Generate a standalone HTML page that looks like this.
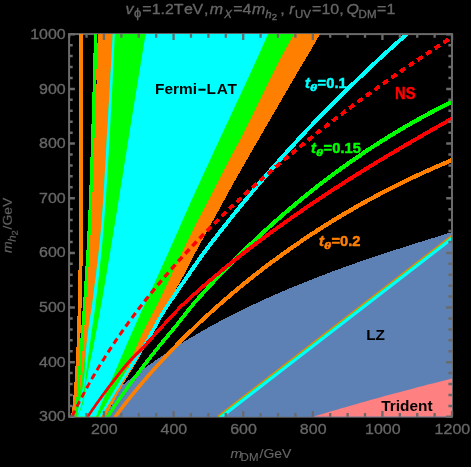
<!DOCTYPE html>
<html><head><meta charset="utf-8"><title>plot</title>
<style>html,body{margin:0;padding:0;background:#000;}svg{display:block;}</style>
</head><body>
<svg width="471" height="467" viewBox="0 0 471 467">
<rect width="471" height="467" fill="#000"/>
<defs><clipPath id="c"><rect x="69.1" y="34.1" width="382.9" height="382.6"/></clipPath></defs>
<rect x="69.1" y="34.1" width="382.9" height="382.6" stroke="#6a6a6a" fill="none" stroke-width="2"/>
<defs><clipPath id="c2"><rect x="70.1" y="35.1" width="380.9" height="381.6"/></clipPath></defs>
<g clip-path="url(#c)" shape-rendering="crispEdges">
<polygon points="79.0,34.0 79.0,37.9 79.0,41.7 79.0,45.6 79.0,49.5 79.0,53.3 79.0,57.2 79.0,61.1 79.0,64.9 79.0,68.8 79.0,72.7 79.0,76.5 79.0,80.4 79.0,84.3 79.0,88.1 79.0,92.0 79.0,95.9 79.0,99.7 79.0,103.6 79.0,107.4 79.0,111.3 79.0,115.2 79.0,119.0 79.0,122.9 79.0,126.8 79.0,130.6 79.0,134.5 79.0,138.4 79.0,142.2 79.0,146.1 79.0,150.0 79.0,153.8 79.0,157.7 79.0,161.6 79.0,165.4 79.0,169.3 79.0,173.2 79.0,177.0 79.0,180.9 79.0,184.8 79.0,188.6 79.0,192.5 79.0,196.4 79.0,200.2 79.0,204.1 79.0,208.0 79.0,211.8 79.0,215.7 79.0,219.6 79.0,223.4 79.0,227.3 79.0,231.1 79.0,235.0 78.9,238.9 78.9,242.7 78.9,246.6 78.8,250.5 78.8,254.3 78.7,258.2 78.6,262.1 78.6,265.9 78.5,269.8 78.4,273.7 78.4,277.5 78.3,281.4 78.2,285.3 78.1,289.1 78.0,293.0 78.0,296.9 77.9,300.7 77.8,304.6 77.7,308.5 77.6,312.3 77.5,316.2 77.4,320.1 77.3,323.9 77.2,327.8 77.1,331.7 76.9,335.5 76.8,339.4 76.7,343.3 76.5,347.1 76.3,351.0 76.2,354.8 76.0,358.7 75.7,362.6 75.5,366.4 75.3,370.3 75.0,374.2 74.8,378.0 74.5,381.9 74.2,385.8 74.0,389.6 73.7,393.5 73.3,397.4 73.0,401.2 72.6,405.1 72.1,409.0 71.6,412.8 71.0,416.7 72.7,416.7 73.8,412.8 74.7,409.0 75.6,405.1 76.2,401.2 76.5,397.4 76.8,393.5 77.1,389.6 77.3,385.8 77.5,381.9 77.8,378.0 78.1,374.2 78.3,370.3 78.6,366.4 78.9,362.6 79.2,358.7 79.4,354.8 79.7,351.0 79.9,347.1 80.1,343.3 80.3,339.4 80.4,335.5 80.6,331.7 80.8,327.8 80.9,323.9 81.1,320.1 81.2,316.2 81.3,312.3 81.5,308.5 81.6,304.6 81.7,300.7 81.8,296.9 81.9,293.0 82.0,289.1 82.1,285.3 82.2,281.4 82.3,277.5 82.3,273.7 82.4,269.8 82.5,265.9 82.6,262.1 82.7,258.2 82.7,254.3 82.8,250.5 82.8,246.6 82.9,242.7 82.9,238.9 83.0,235.0 83.0,231.1 83.0,227.3 83.0,223.4 83.0,219.6 83.0,215.7 83.0,211.8 83.0,208.0 83.0,204.1 83.0,200.2 83.0,196.4 83.0,192.5 83.0,188.6 83.0,184.8 83.0,180.9 83.0,177.0 83.0,173.2 83.0,169.3 83.0,165.4 83.0,161.6 83.0,157.7 83.0,153.8 83.0,150.0 83.0,146.1 83.0,142.2 83.0,138.4 83.0,134.5 83.0,130.6 83.0,126.8 83.0,122.9 83.0,119.0 83.0,115.2 83.0,111.3 83.0,107.4 83.0,103.6 83.0,99.7 83.0,95.9 83.0,92.0 83.0,88.1 83.0,84.3 83.0,80.4 83.0,76.5 83.0,72.7 83.0,68.8 83.0,64.9 83.0,61.1 83.0,57.2 83.0,53.3 83.0,49.5 83.0,45.6 83.0,41.7 83.0,37.9 83.0,34.0" fill="#ff8000"/>
<polygon points="93.9,34.0 93.8,37.9 93.7,41.7 93.6,45.6 93.6,49.5 93.5,53.3 93.4,57.2 93.3,61.1 93.2,64.9 93.1,68.8 93.0,72.7 92.9,76.5 92.8,80.4 92.7,84.3 92.6,88.1 92.5,92.0 92.4,95.9 92.2,99.7 92.1,103.6 92.0,107.4 91.9,111.3 91.8,115.2 91.7,119.0 91.6,122.9 91.4,126.8 91.3,130.6 91.2,134.5 91.1,138.4 91.0,142.2 90.8,146.1 90.7,150.0 90.6,153.8 90.5,157.7 90.3,161.6 90.2,165.4 90.0,169.3 89.9,173.2 89.8,177.0 89.6,180.9 89.5,184.8 89.3,188.6 89.2,192.5 89.0,196.4 88.9,200.2 88.7,204.1 88.6,208.0 88.4,211.8 88.2,215.7 88.0,219.6 87.9,223.4 87.7,227.3 87.5,231.1 87.3,235.0 87.1,238.9 86.9,242.7 86.7,246.6 86.5,250.5 86.2,254.3 86.0,258.2 85.8,262.1 85.5,265.9 85.3,269.8 85.0,273.7 84.8,277.5 84.5,281.4 84.3,285.3 84.0,289.1 83.8,293.0 83.5,296.9 83.3,300.7 83.0,304.6 82.7,308.5 82.4,312.3 82.1,316.2 81.9,320.1 81.6,323.9 81.3,327.8 81.0,331.7 80.7,335.5 80.4,339.4 80.1,343.3 79.9,347.1 79.6,351.0 79.3,354.8 79.1,358.7 78.8,362.6 78.5,366.4 78.3,370.3 78.0,374.2 77.8,378.0 77.5,381.9 77.3,385.8 77.1,389.6 76.8,393.5 76.5,397.4 76.2,401.2 75.6,405.1 74.7,409.0 73.8,412.8 72.7,416.7 74.0,416.7 75.3,412.8 76.6,409.0 77.6,405.1 78.3,401.2 78.8,397.4 79.2,393.5 79.4,389.6 79.7,385.8 80.0,381.9 80.3,378.0 80.6,374.2 81.0,370.3 81.3,366.4 81.6,362.6 81.9,358.7 82.2,354.8 82.5,351.0 82.8,347.1 83.1,343.3 83.4,339.4 83.7,335.5 84.0,331.7 84.3,327.8 84.6,323.9 84.9,320.1 85.2,316.2 85.4,312.3 85.7,308.5 86.0,304.6 86.3,300.7 86.5,296.9 86.8,293.0 87.0,289.1 87.3,285.3 87.6,281.4 87.8,277.5 88.1,273.7 88.4,269.8 88.6,265.9 88.9,262.1 89.1,258.2 89.4,254.3 89.6,250.5 89.8,246.6 90.1,242.7 90.3,238.9 90.5,235.0 90.7,231.1 90.9,227.3 91.1,223.4 91.3,219.6 91.4,215.7 91.6,211.8 91.8,208.0 92.0,204.1 92.1,200.2 92.3,196.4 92.5,192.5 92.6,188.6 92.8,184.8 92.9,180.9 93.1,177.0 93.2,173.2 93.4,169.3 93.5,165.4 93.7,161.6 93.8,157.7 93.9,153.8 94.1,150.0 94.2,146.1 94.3,142.2 94.5,138.4 94.6,134.5 94.7,130.6 94.8,126.8 95.0,122.9 95.1,119.0 95.2,115.2 95.3,111.3 95.4,107.4 95.6,103.6 95.7,99.7 95.8,95.9 95.9,92.0 96.0,88.1 96.1,84.3 96.2,80.4 96.3,76.5 96.4,72.7 96.5,68.8 96.6,64.9 96.7,61.1 96.8,57.2 96.9,53.3 97.0,49.5 97.1,45.6 97.1,41.7 97.2,37.9 97.3,34.0" fill="#00ff00"/>
<polygon points="97.3,34.0 97.2,37.9 97.1,41.7 97.1,45.6 97.0,49.5 96.9,53.3 96.8,57.2 96.7,61.1 96.6,64.9 96.5,68.8 96.4,72.7 96.3,76.5 96.2,80.4 96.1,84.3 96.0,88.1 95.9,92.0 95.8,95.9 95.7,99.7 95.6,103.6 95.4,107.4 95.3,111.3 95.2,115.2 95.1,119.0 95.0,122.9 94.8,126.8 94.7,130.6 94.6,134.5 94.5,138.4 94.3,142.2 94.2,146.1 94.1,150.0 93.9,153.8 93.8,157.7 93.7,161.6 93.5,165.4 93.4,169.3 93.2,173.2 93.1,177.0 92.9,180.9 92.8,184.8 92.6,188.6 92.5,192.5 92.3,196.4 92.1,200.2 92.0,204.1 91.8,208.0 91.6,211.8 91.4,215.7 91.3,219.6 91.1,223.4 90.9,227.3 90.7,231.1 90.5,235.0 90.3,238.9 90.1,242.7 89.8,246.6 89.6,250.5 89.4,254.3 89.1,258.2 88.9,262.1 88.6,265.9 88.4,269.8 88.1,273.7 87.8,277.5 87.6,281.4 87.3,285.3 87.0,289.1 86.8,293.0 86.5,296.9 86.3,300.7 86.0,304.6 85.7,308.5 85.4,312.3 85.2,316.2 84.9,320.1 84.6,323.9 84.3,327.8 84.0,331.7 83.7,335.5 83.4,339.4 83.1,343.3 82.8,347.1 82.5,351.0 82.2,354.8 81.9,358.7 81.6,362.6 81.3,366.4 81.0,370.3 80.6,374.2 80.3,378.0 80.0,381.9 79.7,385.8 79.4,389.6 79.2,393.5 78.8,397.4 78.3,401.2 77.6,405.1 76.6,409.0 75.3,412.8 74.0,416.7 105.8,416.7 107.4,413.5 109.0,410.3 110.7,407.1 112.4,403.8 114.1,400.6 115.8,397.4 117.6,394.2 119.3,391.0 121.1,387.8 122.9,384.5 124.7,381.3 126.6,378.1 128.6,374.9 130.6,371.7 132.6,368.5 134.6,365.3 136.5,362.0 138.4,358.8 140.2,355.6 142.0,352.4 143.8,349.2 145.6,346.0 147.3,342.8 148.8,339.5 150.3,336.3 151.8,333.1 153.3,329.9 154.9,326.7 156.4,323.5 157.9,320.2 159.4,317.0 161.1,313.8 162.9,310.6 164.8,307.4 166.9,304.2 168.9,301.0 171.0,297.7 172.9,294.5 174.7,291.3 176.5,288.1 178.3,284.9 180.1,281.7 181.9,278.4 183.7,275.2 185.4,272.0 187.1,268.8 188.7,265.6 190.3,262.4 192.0,259.2 193.6,255.9 195.3,252.7 197.1,249.5 198.8,246.3 200.6,243.1 202.3,239.9 204.1,236.7 205.8,233.4 207.6,230.2 209.4,227.0 211.1,223.8 212.9,220.6 214.7,217.4 216.5,214.1 218.3,210.9 220.1,207.7 221.9,204.5 223.6,201.3 225.4,198.1 227.2,194.9 228.9,191.6 230.6,188.4 232.4,185.2 234.1,182.0 236.0,178.8 237.8,175.6 239.6,172.4 241.4,169.1 243.3,165.9 245.1,162.7 247.0,159.5 248.8,156.3 250.7,153.1 252.6,149.8 254.4,146.6 256.3,143.4 258.2,140.2 260.0,137.0 261.9,133.8 263.7,130.6 265.6,127.3 267.5,124.1 269.3,120.9 271.2,117.7 273.1,114.5 274.9,111.3 276.8,108.0 278.7,104.8 280.5,101.6 282.4,98.4 284.2,95.2 286.1,92.0 288.0,88.8 289.8,85.5 291.7,82.3 293.6,79.1 295.5,75.9 297.4,72.7 299.3,69.5 301.2,66.3 303.1,63.0 305.0,59.8 306.9,56.6 308.8,53.4 310.7,50.2 312.6,47.0 314.5,43.7 316.3,40.5 318.2,37.3 320.0,34.1" fill="#ff8000"/>
<polygon shape-rendering="geometricPrecision" points="112.7,34.0 112.5,37.9 112.3,41.7 112.1,45.6 111.8,49.5 111.6,53.3 111.4,57.2 111.2,61.1 111.0,64.9 110.8,68.8 110.5,72.7 110.3,76.5 110.1,80.4 109.9,84.3 109.7,88.1 109.4,92.0 109.2,95.9 109.0,99.7 108.8,103.6 108.5,107.4 108.3,111.3 108.1,115.2 107.9,119.0 107.6,122.9 107.4,126.8 107.2,130.6 106.9,134.5 106.7,138.4 106.5,142.2 106.3,146.1 106.1,150.0 105.9,153.8 105.7,157.7 105.4,161.6 105.2,165.4 105.0,169.3 104.8,173.2 104.6,177.0 104.3,180.9 104.1,184.8 103.9,188.6 103.6,192.5 103.4,196.4 103.1,200.2 102.9,204.1 102.6,208.0 102.3,211.8 102.0,215.7 101.7,219.6 101.4,223.4 101.1,227.3 100.8,231.1 100.4,235.0 100.0,238.9 99.6,242.7 99.2,246.6 98.8,250.5 98.4,254.3 97.9,258.2 97.5,262.1 97.0,265.9 96.5,269.8 96.1,273.7 95.6,277.5 95.1,281.4 94.6,285.3 94.1,289.1 93.6,293.0 93.1,296.9 92.6,300.7 92.1,304.6 91.6,308.5 91.1,312.3 90.5,316.2 90.0,320.1 89.4,323.9 88.9,327.8 88.3,331.7 87.7,335.5 87.2,339.4 86.6,343.3 86.1,347.1 85.6,351.0 85.1,354.8 84.5,358.7 84.0,362.6 83.5,366.4 83.0,370.3 82.4,374.2 81.9,378.0 81.3,381.9 80.8,385.8 80.2,389.6 79.6,393.5 79.0,397.4 78.2,401.2 77.4,405.1 76.3,409.0 75.2,412.8 74.0,416.7 100.2,416.7 102.4,413.5 104.4,410.3 106.4,407.1 108.3,403.8 110.2,400.6 112.0,397.4 113.7,394.2 115.4,391.0 117.1,387.8 118.8,384.5 120.4,381.3 122.0,378.1 123.5,374.9 125.0,371.7 126.6,368.5 128.0,365.3 129.5,362.0 131.0,358.8 132.4,355.6 133.9,352.4 135.3,349.2 136.7,346.0 138.2,342.8 139.6,339.5 141.1,336.3 142.6,333.1 144.1,329.9 145.7,326.7 147.4,323.5 149.1,320.2 150.8,317.0 152.4,313.8 154.1,310.6 155.7,307.4 157.4,304.2 159.1,301.0 160.7,297.7 162.2,294.5 163.8,291.3 165.2,288.1 166.7,284.9 168.2,281.7 169.7,278.4 171.2,275.2 172.7,272.0 174.2,268.8 175.7,265.6 177.3,262.4 178.8,259.2 180.3,255.9 181.9,252.7 183.5,249.5 185.0,246.3 186.6,243.1 188.1,239.9 189.7,236.7 191.3,233.4 192.9,230.2 194.5,227.0 196.1,223.8 197.8,220.6 199.5,217.4 201.2,214.1 202.9,210.9 204.6,207.7 206.3,204.5 208.0,201.3 209.7,198.1 211.4,194.9 213.0,191.6 214.6,188.4 216.2,185.2 217.9,182.0 219.5,178.8 221.2,175.6 222.8,172.4 224.5,169.1 226.1,165.9 227.8,162.7 229.5,159.5 231.2,156.3 232.9,153.1 234.7,149.8 236.4,146.6 238.2,143.4 239.9,140.2 241.6,137.0 243.2,133.8 244.8,130.6 246.4,127.3 248.0,124.1 249.6,120.9 251.2,117.7 252.8,114.5 254.4,111.3 256.0,108.0 257.5,104.8 259.1,101.6 260.7,98.4 262.2,95.2 263.8,92.0 265.4,88.8 266.9,85.5 268.5,82.3 270.1,79.1 271.7,75.9 273.3,72.7 274.9,69.5 276.5,66.3 278.1,63.0 279.8,59.8 281.5,56.6 283.2,53.4 285.0,50.2 286.7,47.0 288.6,43.7 290.4,40.5 292.3,37.3 294.3,34.1" fill="#00ff00"/>
<polygon shape-rendering="geometricPrecision" points="112.7,34.0 112.5,37.9 112.3,41.7 112.1,45.6 111.8,49.5 111.6,53.3 111.4,57.2 111.2,61.1 111.0,64.9 110.8,68.8 110.5,72.7 110.3,76.5 110.1,80.4 109.9,84.3 109.7,88.1 109.4,92.0 109.2,95.9 109.0,99.7 108.8,103.6 108.5,107.4 108.3,111.3 108.1,115.2 107.9,119.0 107.6,122.9 107.4,126.8 107.2,130.6 106.9,134.5 106.7,138.4 106.5,142.2 106.3,146.1 106.1,150.0 105.9,153.8 105.7,157.7 105.4,161.6 105.2,165.4 105.0,169.3 104.8,173.2 104.6,177.0 104.3,180.9 104.1,184.8 103.9,188.6 103.6,192.5 103.4,196.4 103.1,200.2 102.9,204.1 102.6,208.0 102.3,211.8 102.0,215.7 101.7,219.6 101.4,223.4 101.1,227.3 100.8,231.1 100.4,235.0 100.0,238.9 99.6,242.7 99.2,246.6 98.8,250.5 98.4,254.3 97.9,258.2 97.5,262.1 97.0,265.9 96.5,269.8 96.1,273.7 95.6,277.5 95.1,281.4 94.6,285.3 94.1,289.1 93.6,293.0 93.1,296.9 92.6,300.7 92.1,304.6 91.5,308.5 90.9,312.3 90.3,316.2 89.7,320.1 89.1,323.9 88.6,327.8 88.0,331.7 87.5,335.5 87.0,339.4 86.6,343.3 86.2,347.1 85.9,351.0 85.7,354.8 85.4,358.7 85.2,362.6 85.0,366.4 84.8,370.3 84.5,374.2 84.2,378.0 83.8,381.9 83.2,385.8 82.4,389.6 81.5,393.5 80.6,397.4 79.8,401.2 79.0,405.1 78.3,409.0 77.7,412.8 77.0,416.7 77.3,416.7 78.9,412.8 80.3,409.0 81.5,405.1 82.5,401.2 83.1,397.4 83.7,393.5 84.1,389.6 84.6,385.8 85.0,381.9 85.5,378.0 86.0,374.2 86.5,370.3 87.0,366.4 87.5,362.6 88.0,358.7 88.5,354.8 89.0,351.0 89.5,347.1 90.0,343.3 90.6,339.4 91.1,335.5 91.7,331.7 92.3,327.8 92.8,323.9 93.4,320.1 93.9,316.2 94.5,312.3 95.0,308.5 95.5,304.6 96.0,300.7 96.5,296.9 96.9,293.0 97.4,289.1 97.8,285.3 98.3,281.4 98.7,277.5 99.2,273.7 99.6,269.8 100.0,265.9 100.4,262.1 100.8,258.2 101.2,254.3 101.6,250.5 102.0,246.6 102.4,242.7 102.7,238.9 103.1,235.0 103.4,231.1 103.7,227.3 104.0,223.4 104.3,219.6 104.6,215.7 104.9,211.8 105.2,208.0 105.5,204.1 105.8,200.2 106.0,196.4 106.3,192.5 106.5,188.6 106.8,184.8 107.0,180.9 107.3,177.0 107.5,173.2 107.8,169.3 108.0,165.4 108.2,161.6 108.4,157.7 108.7,153.8 108.9,150.0 109.1,146.1 109.3,142.2 109.6,138.4 109.8,134.5 110.0,130.6 110.2,126.8 110.4,122.9 110.6,119.0 110.8,115.2 111.1,111.3 111.3,107.4 111.5,103.6 111.7,99.7 111.9,95.9 112.1,92.0 112.3,88.1 112.5,84.3 112.7,80.4 112.8,76.5 113.0,72.7 113.2,68.8 113.4,64.9 113.6,61.1 113.8,57.2 113.9,53.3 114.1,49.5 114.3,45.6 114.5,41.7 114.6,37.9 114.8,34.0" fill="#00ffff"/>
<polygon shape-rendering="geometricPrecision" points="145.6,34.0 145.0,37.9 144.3,41.7 143.7,45.6 143.1,49.5 142.4,53.3 141.8,57.2 141.1,61.1 140.5,64.9 139.9,68.8 139.2,72.7 138.6,76.5 138.0,80.4 137.3,84.3 136.7,88.1 136.1,92.0 135.4,95.9 134.8,99.7 134.2,103.6 133.6,107.4 132.9,111.3 132.3,115.2 131.7,119.0 131.0,122.9 130.4,126.8 129.8,130.6 129.2,134.5 128.5,138.4 127.9,142.2 127.3,146.1 126.7,150.0 126.1,153.8 125.4,157.7 124.8,161.6 124.2,165.4 123.6,169.3 123.0,173.2 122.4,177.0 121.7,180.9 121.1,184.8 120.5,188.6 119.9,192.5 119.3,196.4 118.6,200.2 118.0,204.1 117.4,208.0 116.8,211.8 116.1,215.7 115.5,219.6 114.9,223.4 114.2,227.3 113.6,231.1 113.0,235.0 112.3,238.9 111.7,242.7 111.0,246.6 110.4,250.5 109.8,254.3 109.1,258.2 108.5,262.1 107.8,265.9 107.2,269.8 106.5,273.7 105.9,277.5 105.2,281.4 104.6,285.3 103.9,289.1 103.2,293.0 102.6,296.9 101.9,300.7 101.2,304.6 100.5,308.5 99.8,312.3 99.1,316.2 98.4,320.1 97.7,323.9 97.0,327.8 96.2,331.7 95.5,335.5 94.8,339.4 94.0,343.3 93.3,347.1 92.5,351.0 91.7,354.8 90.8,358.7 90.0,362.6 89.1,366.4 88.3,370.3 87.6,374.2 86.9,378.0 86.2,381.9 85.7,385.8 85.2,389.6 84.8,393.5 84.3,397.4 83.5,401.2 82.5,405.1 81.1,409.0 79.4,412.8 77.6,416.7 95.9,416.7 97.3,413.5 98.6,410.3 100.0,407.1 101.4,403.8 102.7,400.6 104.1,397.4 105.4,394.2 106.8,391.0 108.2,387.8 109.6,384.5 110.9,381.3 112.3,378.1 113.7,374.9 115.0,371.7 116.4,368.5 117.8,365.3 119.2,362.0 120.6,358.8 122.0,355.6 123.4,352.4 124.7,349.2 126.1,346.0 127.5,342.8 128.9,339.5 130.3,336.3 131.7,333.1 133.2,329.9 134.6,326.7 136.0,323.5 137.4,320.2 138.9,317.0 140.4,313.8 141.9,310.6 143.3,307.4 144.8,304.2 146.3,301.0 147.8,297.7 149.3,294.5 150.8,291.3 152.3,288.1 153.7,284.9 155.2,281.7 156.6,278.4 158.1,275.2 159.6,272.0 161.0,268.8 162.4,265.6 163.9,262.4 165.3,259.2 166.8,255.9 168.3,252.7 169.7,249.5 171.1,246.3 172.6,243.1 174.0,239.9 175.4,236.7 176.8,233.4 178.3,230.2 179.7,227.0 181.1,223.8 182.5,220.6 183.9,217.4 185.3,214.1 186.8,210.9 188.2,207.7 189.6,204.5 191.0,201.3 192.5,198.1 194.0,194.9 195.4,191.6 196.9,188.4 198.4,185.2 199.9,182.0 201.3,178.8 202.8,175.6 204.3,172.4 205.8,169.1 207.3,165.9 208.8,162.7 210.3,159.5 211.7,156.3 213.2,153.1 214.7,149.8 216.2,146.6 217.7,143.4 219.2,140.2 220.7,137.0 222.2,133.8 223.7,130.6 225.2,127.3 226.7,124.1 228.2,120.9 229.7,117.7 231.2,114.5 232.7,111.3 234.2,108.0 235.7,104.8 237.2,101.6 238.7,98.4 240.2,95.2 241.7,92.0 243.2,88.8 244.7,85.5 246.2,82.3 247.7,79.1 249.2,75.9 250.6,72.7 252.1,69.5 253.6,66.3 255.0,63.0 256.5,59.8 258.0,56.6 259.4,53.4 260.9,50.2 262.3,47.0 263.8,43.7 265.2,40.5 266.6,37.3 268.0,34.1" fill="#00ffff"/>
<rect x="96.7" y="34" width="1.5" height="8.7" fill="#000"/><rect x="96" y="80.2" width="1.3" height="3.8" fill="#000"/>
<polygon points="124.0,384.0 126.5,382.1 128.9,380.2 131.3,378.3 133.7,376.4 136.2,374.5 138.6,372.6 141.1,370.8 143.6,369.0 146.1,367.2 148.5,365.4 151.0,363.6 153.6,361.8 156.1,360.1 158.6,358.3 161.1,356.6 163.7,354.9 166.2,353.2 168.8,351.5 171.3,349.8 173.9,348.2 176.5,346.5 179.0,344.9 181.6,343.3 184.2,341.7 186.8,340.1 189.4,338.5 192.1,337.0 194.7,335.4 197.3,333.9 200.0,332.3 202.6,330.8 205.3,329.3 207.9,327.8 210.6,326.3 213.3,324.9 215.9,323.4 218.6,322.0 221.3,320.5 224.0,319.1 226.7,317.7 229.4,316.3 232.1,314.9 234.9,313.6 237.6,312.2 240.3,310.8 243.1,309.5 245.8,308.2 248.5,306.8 251.3,305.5 254.1,304.2 256.8,302.9 259.6,301.6 262.4,300.4 265.1,299.1 267.9,297.8 270.7,296.6 273.5,295.4 276.3,294.1 279.1,292.9 281.9,291.7 284.7,290.5 287.5,289.3 290.3,288.1 293.2,287.0 296.0,285.8 298.8,284.6 301.6,283.5 304.5,282.3 307.3,281.2 310.2,280.1 313.0,279.0 315.9,277.9 318.7,276.8 321.6,275.7 324.4,274.6 327.3,273.5 330.2,272.4 333.0,271.3 335.9,270.3 338.8,269.2 341.6,268.2 344.5,267.1 347.4,266.1 350.3,265.1 353.2,264.1 356.1,263.0 358.9,262.0 361.8,261.0 364.7,260.0 367.6,259.0 370.5,258.1 373.4,257.1 376.3,256.1 379.2,255.1 382.1,254.2 385.0,253.2 387.9,252.2 390.8,251.3 393.7,250.3 396.7,249.4 399.6,248.5 402.5,247.5 405.4,246.6 408.3,245.7 411.2,244.7 414.1,243.8 417.0,242.9 420.0,242.0 422.9,241.1 425.8,240.2 428.7,239.3 431.6,238.4 434.5,237.5 437.4,236.6 440.4,235.7 443.3,234.8 446.2,233.9 449.1,233.0 452.0,232.2 452.0,416.6 105.8,416.7 106.7,414.8 107.7,412.9 108.7,410.9 109.7,409.0 110.7,407.1 111.7,405.2 112.7,403.2 113.7,401.3 114.8,399.4 115.8,397.5 116.8,395.6 117.9,393.6 118.9,391.7 120.0,389.8 121.1,387.9 122.1,385.9 123.2,384.0" fill="#5e81b5"/>
<polygon shape-rendering="geometricPrecision" points="313.0,416.7 317.8,415.3 322.5,413.9 327.3,412.5 332.1,411.1 336.8,409.7 341.6,408.3 346.4,406.9 351.2,405.5 355.9,404.2 360.7,402.8 365.5,401.5 370.3,400.1 375.1,398.8 379.9,397.5 384.7,396.1 389.5,394.8 394.3,393.5 399.1,392.2 403.9,390.9 408.7,389.7 413.5,388.4 418.3,387.1 423.1,385.9 427.9,384.6 432.7,383.4 437.5,382.2 442.4,380.9 447.2,379.7 452.0,378.5 452.0,416.6" fill="#ff8080"/>
</g>
<g clip-path="url(#c2)" shape-rendering="crispEdges">
<polygon shape-rendering="geometricPrecision" points="218.9,417.6 452.7,236.8 451.3,235.0 217.5,415.8" fill="#ff8000"/>
<polygon shape-rendering="geometricPrecision" points="219.1,417.9 452.9,237.1 452.0,235.9 218.2,416.7" fill="#00ff00"/>
<polygon shape-rendering="geometricPrecision" points="220.4,419.6 454.2,238.8 452.3,236.3 218.5,417.1" fill="#00ffff"/>
<polygon points="173.1,351.5 174.3,350.2 175.5,349.0 176.7,347.7 178.0,346.5 179.2,345.2 180.5,344.0 181.7,342.7 183.0,341.4 184.2,340.2 185.5,338.9 186.8,337.6 188.1,336.4 189.4,335.1 190.7,333.8 192.1,332.5 193.4,331.2 194.7,329.9 196.1,328.6 197.4,327.3 198.8,326.0 200.2,324.7 201.6,323.4 203.0,322.1 204.4,320.8 205.8,319.5 207.3,318.2 208.7,316.9 210.1,315.5 211.6,314.2 213.1,312.9 214.6,311.6 216.1,310.2 217.6,308.9 219.1,307.6 220.6,306.2 222.1,304.9 223.7,303.5 225.2,302.2 226.8,300.8 228.4,299.5 230.0,298.1 231.6,296.8 233.2,295.4 234.8,294.0 236.4,292.7 238.1,291.3 239.7,289.9 241.4,288.6 243.1,287.2 244.8,285.8 246.5,284.4 248.2,283.0 249.9,281.7 251.6,280.3 253.4,278.9 255.2,277.5 256.9,276.1 258.7,274.7 260.5,273.3 262.3,271.9 264.1,270.5 266.0,269.1 267.8,267.7 269.7,266.3 271.6,264.9 273.5,263.5 275.4,262.1 277.3,260.7 279.2,259.2 281.1,257.8 283.1,256.4 285.1,255.0 287.0,253.6 289.0,252.2 291.1,250.7 293.1,249.3 295.1,247.9 297.2,246.5 299.2,245.1 301.3,243.6 303.4,242.2 305.5,240.8 307.6,239.4 309.8,238.0 311.9,236.5 314.1,235.1 316.3,233.7 318.5,232.3 320.7,230.8 322.9,229.4 325.2,228.0 327.5,226.6 329.7,225.1 332.0,223.7 334.3,222.3 336.7,220.9 339.0,219.5 341.4,218.0 343.8,216.6 346.1,215.2 348.6,213.8 351.0,212.4 353.4,211.0 355.9,209.5 358.4,208.1 360.9,206.7 363.4,205.3 365.9,203.9 368.5,202.5 371.0,201.1 373.6,199.7 376.2,198.3 378.8,196.9 381.5,195.5 384.1,194.1 386.8,192.7 389.5,191.3 392.2,190.0 394.9,188.6 397.7,187.2 400.5,185.8 403.3,184.4 406.1,183.1 408.9,181.7 411.7,180.3 414.6,179.0 417.5,177.6 420.4,176.3 423.3,174.9 426.3,173.6 429.3,172.2 432.3,170.9 435.3,169.6 438.3,168.2 441.4,166.9 444.4,165.6 447.5,164.3 450.7,163.0 453.8,161.7 452.2,157.8 449.0,159.1 445.9,160.4 442.8,161.7 439.7,163.1 436.6,164.4 433.6,165.7 430.6,167.1 427.5,168.4 424.6,169.8 421.6,171.1 418.7,172.5 415.7,173.8 412.8,175.2 409.9,176.6 407.1,177.9 404.2,179.3 401.4,180.7 398.6,182.1 395.8,183.4 393.1,184.8 390.3,186.2 387.6,187.6 384.9,189.0 382.2,190.4 379.5,191.8 376.9,193.2 374.2,194.6 371.6,196.0 369.0,197.4 366.4,198.8 363.9,200.2 361.3,201.6 358.8,203.1 356.3,204.5 353.8,205.9 351.3,207.3 348.9,208.7 346.4,210.2 344.0,211.6 341.6,213.0 339.2,214.4 336.8,215.9 334.5,217.3 332.2,218.7 329.8,220.1 327.5,221.6 325.2,223.0 323.0,224.4 320.7,225.9 318.5,227.3 316.2,228.7 314.0,230.2 311.8,231.6 309.6,233.0 307.5,234.4 305.3,235.9 303.2,237.3 301.1,238.7 299.0,240.2 296.9,241.6 294.8,243.0 292.7,244.5 290.7,245.9 288.6,247.3 286.6,248.7 284.6,250.2 282.6,251.6 280.6,253.0 278.7,254.4 276.7,255.8 274.8,257.3 272.9,258.7 270.9,260.1 269.1,261.5 267.2,262.9 265.3,264.3 263.4,265.8 261.6,267.2 259.8,268.6 257.9,270.0 256.1,271.4 254.3,272.8 252.6,274.2 250.8,275.6 249.0,277.0 247.3,278.4 245.6,279.8 243.8,281.2 242.1,282.6 240.4,284.0 238.8,285.4 237.1,286.7 235.4,288.1 233.8,289.5 232.1,290.9 230.5,292.3 228.9,293.6 227.3,295.0 225.7,296.4 224.1,297.7 222.6,299.1 221.0,300.5 219.5,301.8 217.9,303.2 216.4,304.5 214.9,305.9 213.4,307.2 211.9,308.6 210.4,309.9 208.9,311.3 207.5,312.6 206.0,313.9 204.6,315.3 203.1,316.6 201.7,317.9 200.3,319.2 198.9,320.6 197.5,321.9 196.1,323.2 194.7,324.5 193.4,325.8 192.0,327.1 190.7,328.4 189.3,329.7 188.0,331.0 186.7,332.3 185.4,333.6 184.1,334.9 182.8,336.2 181.5,337.4 180.2,338.7 179.0,340.0 177.7,341.3 176.5,342.5 175.2,343.8 174.0,345.1 172.8,346.3 171.6,347.6 170.4,348.8" fill="#ff8000"/><polygon shape-rendering="geometricPrecision" points="114.4,421.0 115.2,419.9 116.0,418.8 116.8,417.7 117.6,416.6 118.4,415.5 119.2,414.4 120.1,413.3 120.9,412.2 121.7,411.1 122.6,410.0 123.4,408.9 124.3,407.8 125.1,406.6 126.0,405.5 126.9,404.4 127.7,403.3 128.6,402.2 129.5,401.0 130.4,399.9 131.3,398.8 132.2,397.6 133.1,396.5 134.1,395.4 135.0,394.2 135.9,393.1 136.9,392.0 137.8,390.8 138.8,389.7 139.7,388.5 140.7,387.4 141.7,386.2 142.7,385.0 143.6,383.9 144.6,382.7 145.6,381.6 146.7,380.4 147.7,379.2 148.7,378.0 149.7,376.9 150.8,375.7 151.8,374.5 152.9,373.3 153.9,372.1 155.0,370.9 156.1,369.7 157.1,368.5 158.2,367.3 159.3,366.1 160.4,364.9 161.5,363.7 162.7,362.5 163.8,361.3 164.9,360.1 166.1,358.9 167.2,357.6 168.4,356.4 169.6,355.2 170.7,353.9 171.9,352.7 173.1,351.5 174.3,350.2 171.6,347.6 170.4,348.8 169.2,350.1 168.0,351.3 166.8,352.6 165.7,353.8 164.5,355.1 163.3,356.3 162.2,357.5 161.1,358.7 159.9,360.0 158.8,361.2 157.7,362.4 156.6,363.6 155.5,364.8 154.4,366.1 153.3,367.3 152.2,368.5 151.2,369.7 150.1,370.9 149.0,372.1 148.0,373.2 147.0,374.4 145.9,375.6 144.9,376.8 143.9,378.0 142.9,379.2 141.9,380.3 140.9,381.5 139.9,382.7 138.9,383.9 137.9,385.0 137.0,386.2 136.0,387.3 135.0,388.5 134.1,389.7 133.1,390.8 132.2,392.0 131.3,393.1 130.4,394.3 129.4,395.4 128.5,396.5 127.6,397.7 126.7,398.8 125.8,400.0 124.9,401.1 124.1,402.2 123.2,403.3 122.3,404.5 121.5,405.6 120.6,406.7 119.8,407.8 118.9,409.0 118.1,410.1 117.2,411.2 116.4,412.3 115.6,413.4 114.8,414.5 114.0,415.6 113.2,416.8 112.4,417.9 111.6,419.0" fill="#ff8000"/>
<polygon points="133.5,382.3 134.5,380.9 135.5,379.5 136.5,378.2 137.5,376.8 138.6,375.4 139.6,374.0 140.7,372.6 141.7,371.2 142.8,369.8 143.9,368.4 145.0,367.0 146.1,365.6 147.2,364.2 148.3,362.8 149.4,361.3 150.5,359.9 151.7,358.4 152.8,357.0 154.0,355.5 155.1,354.1 156.3,352.6 157.5,351.2 158.7,349.7 159.9,348.2 161.1,346.7 162.3,345.3 163.6,343.8 164.8,342.3 166.1,340.8 167.4,339.2 168.6,337.7 169.9,336.2 171.2,334.7 172.5,333.1 173.8,331.6 175.1,330.0 176.3,328.5 177.6,326.9 178.8,325.3 180.1,323.8 181.3,322.2 182.6,320.6 183.8,319.0 185.0,317.5 186.3,315.9 187.5,314.3 188.8,312.7 190.1,311.1 191.4,309.5 192.7,307.9 194.0,306.2 195.4,304.6 196.8,303.0 198.3,301.4 199.7,299.7 201.2,298.1 202.7,296.4 204.2,294.8 205.7,293.1 207.2,291.5 208.8,289.8 210.3,288.1 211.9,286.4 213.5,284.7 215.0,283.0 216.6,281.3 218.2,279.6 219.9,277.9 221.5,276.2 223.1,274.5 224.8,272.8 226.5,271.1 228.1,269.4 229.8,267.6 231.5,265.9 233.3,264.1 235.0,262.4 236.7,260.7 238.5,258.9 240.3,257.2 242.0,255.4 243.8,253.6 245.7,251.9 247.5,250.1 249.3,248.3 251.2,246.5 253.0,244.8 254.9,243.0 256.8,241.2 258.7,239.4 260.6,237.6 262.5,235.8 264.5,234.0 266.5,232.2 268.4,230.4 270.4,228.6 272.4,226.8 274.4,225.0 276.5,223.1 278.5,221.3 280.6,219.5 282.7,217.7 284.8,215.9 286.9,214.0 289.0,212.2 291.2,210.4 293.3,208.6 295.5,206.7 297.7,204.9 299.9,203.1 302.1,201.2 304.4,199.4 306.6,197.6 308.9,195.7 311.2,193.9 313.5,192.0 315.8,190.2 318.2,188.4 320.5,186.5 322.9,184.7 325.3,182.9 327.7,181.0 330.2,179.2 332.6,177.4 335.1,175.5 337.6,173.7 340.1,171.9 342.6,170.0 345.1,168.2 347.7,166.4 350.3,164.6 352.9,162.7 355.5,160.9 358.2,159.1 360.8,157.3 363.5,155.5 366.2,153.6 368.9,151.8 371.7,150.0 374.4,148.2 377.2,146.4 380.0,144.6 382.8,142.9 385.7,141.1 388.5,139.3 391.4,137.5 394.3,135.7 397.3,134.0 400.2,132.2 403.2,130.4 406.2,128.7 409.2,126.9 412.2,125.2 415.3,123.5 418.4,121.7 421.5,120.0 424.6,118.3 427.8,116.6 431.0,114.9 434.2,113.2 437.4,111.5 440.7,109.8 443.9,108.1 447.2,106.4 450.6,104.8 453.9,103.1 452.1,99.4 448.7,101.1 445.4,102.8 442.1,104.4 438.8,106.1 435.5,107.8 432.3,109.5 429.0,111.2 425.8,113.0 422.7,114.7 419.5,116.4 416.4,118.1 413.3,119.9 410.2,121.6 407.1,123.4 404.1,125.1 401.1,126.9 398.1,128.7 395.1,130.4 392.2,132.2 389.3,134.0 386.4,135.8 383.5,137.6 380.6,139.4 377.8,141.2 375.0,143.0 372.2,144.8 369.4,146.6 366.6,148.4 363.9,150.2 361.2,152.1 358.5,153.9 355.8,155.7 353.2,157.5 350.5,159.4 347.9,161.2 345.3,163.0 342.8,164.9 340.2,166.7 337.7,168.5 335.1,170.4 332.6,172.2 330.2,174.1 327.7,175.9 325.3,177.8 322.8,179.6 320.4,181.4 318.0,183.3 315.7,185.1 313.3,187.0 311.0,188.8 308.6,190.7 306.3,192.5 304.0,194.4 301.8,196.2 299.5,198.1 297.3,199.9 295.1,201.7 292.9,203.6 290.7,205.4 288.5,207.3 286.4,209.1 284.2,210.9 282.1,212.8 280.0,214.6 277.9,216.4 275.8,218.3 273.8,220.1 271.7,221.9 269.7,223.7 267.7,225.5 265.7,227.4 263.7,229.2 261.7,231.0 259.8,232.8 257.8,234.6 255.9,236.4 254.0,238.2 252.1,240.0 250.2,241.8 248.3,243.6 246.5,245.4 244.6,247.2 242.8,249.0 241.0,250.7 239.2,252.5 237.4,254.3 235.6,256.1 233.9,257.8 232.1,259.6 230.4,261.3 228.7,263.1 227.0,264.8 225.3,266.6 223.6,268.3 221.9,270.1 220.3,271.8 218.6,273.5 217.0,275.2 215.4,276.9 213.8,278.7 212.2,280.4 210.6,282.1 209.0,283.8 207.5,285.5 205.9,287.1 204.4,288.8 202.8,290.5 201.3,292.2 199.8,293.9 198.3,295.5 196.9,297.2 195.4,298.8 193.9,300.5 192.5,302.1 191.1,303.8 189.8,305.4 188.4,307.1 187.1,308.7 185.8,310.3 184.6,311.9 183.3,313.5 182.1,315.1 180.8,316.7 179.6,318.3 178.4,319.9 177.1,321.5 175.9,323.0 174.7,324.6 173.4,326.1 172.2,327.7 170.9,329.2 169.7,330.8 168.4,332.3 167.1,333.8 165.8,335.3 164.5,336.9 163.3,338.4 162.0,339.9 160.7,341.4 159.5,342.9 158.3,344.4 157.0,345.9 155.8,347.4 154.6,348.9 153.5,350.4 152.3,351.8 151.1,353.3 150.0,354.8 148.8,356.2 147.7,357.7 146.6,359.1 145.4,360.5 144.3,362.0 143.2,363.4 142.1,364.8 141.1,366.3 140.0,367.7 138.9,369.1 137.8,370.5 136.8,371.9 135.7,373.3 134.7,374.7 133.7,376.1 132.7,377.4 131.6,378.8 130.6,380.2" fill="#00ff00"/><polygon shape-rendering="geometricPrecision" points="104.5,425.2 105.2,424.0 106.0,422.7 106.8,421.5 107.6,420.2 108.3,418.9 109.1,417.7 109.9,416.4 110.8,415.1 111.6,413.8 112.4,412.6 113.3,411.3 114.1,410.0 114.9,408.7 115.8,407.4 116.7,406.1 117.5,404.8 118.4,403.5 119.3,402.2 120.2,400.9 121.1,399.6 122.0,398.3 122.9,397.0 123.8,395.7 124.8,394.4 125.7,393.0 126.7,391.7 127.6,390.4 128.6,389.0 129.5,387.7 130.5,386.3 131.5,385.0 132.5,383.6 133.5,382.3 130.6,380.2 129.6,381.6 128.6,382.9 127.7,384.3 126.7,385.6 125.7,387.0 124.8,388.3 123.8,389.7 122.9,391.0 121.9,392.4 121.0,393.7 120.1,395.0 119.2,396.4 118.2,397.7 117.3,399.0 116.5,400.3 115.6,401.6 114.7,402.9 113.8,404.2 112.9,405.5 112.1,406.8 111.2,408.1 110.4,409.4 109.6,410.7 108.7,412.0 107.9,413.3 107.1,414.6 106.3,415.8 105.5,417.1 104.7,418.4 103.9,419.7 103.1,420.9 102.3,422.2 101.5,423.5" fill="#00ff00"/>
<polygon points="129.1,371.8 130.1,370.3 131.2,368.7 132.2,367.1 133.3,365.5 134.3,363.9 135.4,362.4 136.4,360.8 137.5,359.1 138.5,357.5 139.6,355.9 140.7,354.3 141.7,352.7 142.8,351.0 143.9,349.4 144.9,347.7 145.9,346.0 147.0,344.4 148.0,342.7 148.9,341.0 149.9,339.3 150.9,337.6 151.8,335.9 152.8,334.2 153.8,332.5 154.7,330.8 155.7,329.0 156.7,327.3 157.6,325.6 158.6,323.8 159.5,322.1 160.5,320.3 161.4,318.6 162.5,316.8 163.5,315.1 164.6,313.4 165.8,311.6 166.9,309.8 168.1,308.0 169.3,306.2 170.5,304.4 171.7,302.6 173.0,300.8 174.2,299.0 175.4,297.2 176.7,295.3 178.0,293.5 179.2,291.7 180.5,289.8 181.8,287.9 183.1,286.1 184.4,284.2 185.7,282.3 187.1,280.5 188.4,278.6 189.7,276.7 191.0,274.8 192.3,272.8 193.6,270.9 194.9,269.0 196.3,267.1 197.6,265.2 198.9,263.2 200.3,261.3 201.7,259.3 203.1,257.4 204.5,255.4 205.9,253.5 207.4,251.5 208.9,249.5 210.4,247.6 211.9,245.6 213.4,243.6 214.9,241.6 216.5,239.6 218.0,237.6 219.6,235.5 221.2,233.5 222.8,231.5 224.4,229.4 226.0,227.4 227.6,225.4 229.3,223.3 230.9,221.2 232.6,219.2 234.2,217.1 235.9,215.0 237.6,212.9 239.3,210.8 241.0,208.7 242.7,206.6 244.4,204.5 246.1,202.4 247.9,200.3 249.6,198.2 251.4,196.0 253.1,193.9 254.9,191.8 256.7,189.6 258.6,187.4 260.4,185.3 262.2,183.1 264.1,180.9 266.0,178.7 267.8,176.6 269.7,174.4 271.7,172.2 273.6,169.9 275.5,167.7 277.5,165.5 279.5,163.3 281.5,161.0 283.5,158.8 285.5,156.5 287.5,154.3 289.5,152.0 291.6,149.8 293.7,147.5 295.8,145.2 297.9,142.9 300.0,140.6 302.1,138.3 304.3,136.0 306.4,133.7 308.6,131.3 310.8,129.0 313.1,126.7 315.3,124.3 317.6,122.0 319.9,119.6 322.2,117.2 324.5,114.8 326.9,112.4 329.3,110.1 331.7,107.7 334.1,105.2 336.5,102.8 338.9,100.4 341.4,98.0 343.9,95.5 346.4,93.1 348.9,90.6 351.4,88.1 354.0,85.7 356.6,83.2 359.2,80.7 361.8,78.2 364.4,75.7 367.1,73.2 369.7,70.6 372.4,68.1 375.1,65.5 377.9,63.0 380.6,60.4 383.4,57.9 386.2,55.3 389.1,52.7 391.9,50.1 394.8,47.5 397.7,44.9 400.6,42.2 403.6,39.6 406.6,37.0 409.5,34.3 406.9,31.3 403.9,34.0 400.9,36.6 398.0,39.3 395.0,41.9 392.1,44.5 389.2,47.1 386.4,49.7 383.5,52.3 380.7,54.9 377.9,57.5 375.2,60.1 372.4,62.6 369.7,65.2 367.0,67.7 364.3,70.2 361.7,72.8 359.0,75.3 356.4,77.8 353.8,80.3 351.2,82.8 348.6,85.3 346.1,87.7 343.6,90.2 341.1,92.7 338.6,95.1 336.1,97.6 333.7,100.0 331.2,102.4 328.8,104.8 326.4,107.2 324.0,109.6 321.7,112.0 319.3,114.4 317.0,116.8 314.7,119.2 312.4,121.5 310.2,123.9 307.9,126.2 305.7,128.6 303.5,130.9 301.3,133.2 299.2,135.6 297.0,137.9 294.9,140.2 292.8,142.5 290.7,144.8 288.6,147.1 286.6,149.3 284.5,151.6 282.5,153.9 280.5,156.1 278.5,158.4 276.5,160.6 274.5,162.9 272.5,165.1 270.6,167.3 268.6,169.5 266.7,171.7 264.8,173.9 262.9,176.1 261.0,178.3 259.2,180.5 257.3,182.7 255.5,184.9 253.7,187.0 251.9,189.2 250.1,191.3 248.3,193.5 246.5,195.6 244.8,197.8 243.0,199.9 241.3,202.0 239.6,204.1 237.8,206.2 236.1,208.3 234.5,210.4 232.8,212.5 231.1,214.6 229.4,216.7 227.8,218.7 226.1,220.8 224.5,222.9 222.9,224.9 221.2,227.0 219.6,229.0 218.0,231.0 216.4,233.1 214.9,235.1 213.3,237.1 211.8,239.1 210.2,241.1 208.7,243.1 207.2,245.1 205.7,247.1 204.2,249.1 202.7,251.1 201.2,253.1 199.8,255.1 198.4,257.0 197.0,259.0 195.7,260.9 194.3,262.9 193.0,264.8 191.6,266.7 190.3,268.7 189.0,270.6 187.7,272.5 186.4,274.4 185.1,276.3 183.8,278.2 182.5,280.1 181.2,282.0 179.9,283.9 178.6,285.7 177.3,287.6 176.1,289.5 174.8,291.3 173.6,293.2 172.3,295.0 171.1,296.9 169.9,298.7 168.6,300.6 167.4,302.4 166.3,304.2 165.1,306.0 163.9,307.8 162.7,309.6 161.6,311.5 160.5,313.3 159.4,315.1 158.4,316.9 157.4,318.7 156.5,320.4 155.5,322.2 154.6,323.9 153.7,325.7 152.8,327.4 151.8,329.1 150.8,330.8 149.9,332.6 148.9,334.3 148.0,336.0 147.1,337.7 146.1,339.4 145.2,341.0 144.2,342.7 143.2,344.4 142.2,346.0 141.2,347.7 140.2,349.3 139.1,351.0 138.1,352.6 137.0,354.3 136.0,355.9 134.9,357.5 133.9,359.1 132.9,360.7 131.9,362.3 130.8,363.9 129.8,365.5 128.8,367.1 127.7,368.7 126.7,370.2" fill="#00ffff"/><polygon shape-rendering="geometricPrecision" points="98.0,422.7 98.7,421.4 99.4,420.2 100.1,418.9 100.9,417.6 101.6,416.3 102.4,415.0 103.1,413.6 103.9,412.3 104.7,411.0 105.5,409.6 106.3,408.3 107.1,406.9 107.9,405.5 108.7,404.1 109.6,402.7 110.4,401.4 111.2,399.9 112.1,398.5 113.0,397.1 113.8,395.7 114.7,394.2 115.6,392.8 116.5,391.3 117.4,389.9 118.3,388.4 119.2,386.9 120.2,385.5 121.1,384.0 122.0,382.5 123.0,381.0 124.0,379.5 125.0,378.0 126.0,376.4 127.0,374.9 128.0,373.4 129.1,371.8 130.1,370.3 127.7,368.7 126.7,370.2 125.7,371.8 124.7,373.3 123.6,374.9 122.7,376.4 121.7,378.0 120.7,379.5 119.7,381.0 118.8,382.5 117.9,384.0 117.0,385.5 116.1,387.0 115.2,388.5 114.3,390.0 113.4,391.5 112.5,392.9 111.7,394.4 110.8,395.8 109.9,397.2 109.1,398.7 108.3,400.1 107.4,401.5 106.6,402.9 105.8,404.3 105.0,405.7 104.2,407.0 103.4,408.4 102.6,409.8 101.9,411.1 101.1,412.5 100.3,413.8 99.6,415.1 98.8,416.4 98.1,417.8 97.4,419.0 96.7,420.3 96.0,421.6" fill="#00ffff"/>
<polygon points="147.2,345.6 148.4,344.3 149.6,343.0 150.8,341.7 151.9,340.3 153.1,339.0 154.3,337.7 155.5,336.3 156.8,335.0 158.0,333.6 159.2,332.3 160.5,330.9 161.7,329.6 163.0,328.2 164.2,326.8 165.5,325.5 166.7,324.1 168.0,322.7 169.3,321.3 170.5,319.9 171.8,318.6 173.1,317.2 174.4,315.8 175.7,314.4 177.0,313.0 178.4,311.6 179.8,310.2 181.2,308.8 182.6,307.4 184.0,306.0 185.5,304.5 187.0,303.1 188.6,301.7 190.1,300.2 191.7,298.8 193.3,297.4 195.0,295.9 196.6,294.5 198.2,293.0 199.9,291.5 201.6,290.1 203.3,288.6 205.0,287.1 206.7,285.6 208.4,284.1 210.2,282.6 212.0,281.2 213.7,279.6 215.5,278.1 217.3,276.6 219.2,275.1 221.0,273.6 222.9,272.1 224.7,270.5 226.6,269.0 228.5,267.5 230.4,265.9 232.4,264.4 234.3,262.8 236.3,261.3 238.3,259.7 240.3,258.1 242.3,256.5 244.3,255.0 246.4,253.4 248.5,251.8 250.5,250.2 252.7,248.6 254.8,247.0 256.9,245.3 259.1,243.7 261.2,242.1 263.4,240.5 265.6,238.8 267.9,237.2 270.1,235.5 272.4,233.8 274.7,232.2 277.0,230.5 279.3,228.8 281.6,227.2 284.0,225.5 286.4,223.8 288.8,222.1 291.2,220.4 293.7,218.6 296.1,216.9 298.6,215.2 301.1,213.5 303.7,211.7 306.2,210.0 308.8,208.2 311.4,206.5 314.0,204.7 316.6,202.9 319.3,201.2 322.0,199.4 324.7,197.6 327.4,195.8 330.2,194.0 332.9,192.2 335.7,190.3 338.6,188.5 341.4,186.7 344.3,184.8 347.2,183.0 350.1,181.1 353.0,179.3 356.0,177.4 359.0,175.5 362.0,173.6 365.1,171.8 368.1,169.9 371.2,168.0 374.4,166.0 377.5,164.1 380.7,162.2 383.9,160.3 387.1,158.3 390.4,156.4 393.7,154.4 397.0,152.4 400.3,150.5 403.7,148.5 407.1,146.5 410.5,144.5 414.0,142.5 417.4,140.5 421.0,138.4 424.5,136.4 428.1,134.4 431.7,132.3 435.3,130.3 439.0,128.2 442.7,126.1 446.4,124.0 450.2,122.0 453.9,119.9 452.1,116.4 448.3,118.5 444.5,120.6 440.8,122.7 437.1,124.8 433.4,126.9 429.8,128.9 426.1,131.0 422.6,133.0 419.0,135.1 415.5,137.1 412.0,139.1 408.5,141.1 405.1,143.1 401.7,145.1 398.3,147.1 395.0,149.1 391.7,151.1 388.4,153.0 385.1,155.0 381.9,156.9 378.7,158.9 375.5,160.8 372.3,162.7 369.2,164.6 366.1,166.5 363.0,168.4 360.0,170.3 356.9,172.2 353.9,174.1 351.0,176.0 348.0,177.8 345.1,179.7 342.2,181.6 339.3,183.4 336.5,185.2 333.6,187.1 330.8,188.9 328.0,190.7 325.3,192.5 322.5,194.3 319.8,196.1 317.1,197.9 314.5,199.7 311.8,201.5 309.2,203.2 306.6,205.0 304.0,206.8 301.5,208.5 298.9,210.3 296.4,212.0 293.9,213.7 291.4,215.4 289.0,217.2 286.6,218.9 284.1,220.6 281.8,222.3 279.4,224.0 277.0,225.7 274.7,227.4 272.4,229.0 270.1,230.7 267.8,232.4 265.6,234.0 263.3,235.7 261.1,237.3 258.9,239.0 256.7,240.6 254.6,242.2 252.4,243.9 250.3,245.5 248.2,247.1 246.1,248.7 244.0,250.3 242.0,251.9 239.9,253.5 237.9,255.1 235.9,256.7 233.9,258.3 232.0,259.8 230.0,261.4 228.1,263.0 226.1,264.5 224.2,266.1 222.4,267.6 220.5,269.2 218.6,270.7 216.8,272.3 215.0,273.8 213.1,275.3 211.4,276.8 209.6,278.3 207.8,279.9 206.1,281.4 204.3,282.9 202.6,284.4 200.9,285.9 199.2,287.3 197.5,288.8 195.9,290.3 194.2,291.8 192.6,293.2 191.0,294.7 189.3,296.2 187.7,297.6 186.2,299.1 184.6,300.5 183.1,302.0 181.6,303.4 180.1,304.9 178.7,306.3 177.3,307.7 175.9,309.2 174.5,310.6 173.2,312.0 171.9,313.4 170.6,314.8 169.3,316.2 168.0,317.6 166.7,319.0 165.5,320.4 164.2,321.8 163.0,323.2 161.7,324.5 160.5,325.9 159.2,327.3 158.0,328.6 156.7,330.0 155.5,331.4 154.3,332.7 153.1,334.1 151.8,335.4 150.7,336.8 149.5,338.1 148.3,339.4 147.1,340.8 145.9,342.1 144.7,343.4" fill="#ff0000"/><polygon shape-rendering="geometricPrecision" points="86.1,421.7 86.8,420.5 87.5,419.4 88.3,418.2 89.0,417.0 89.8,415.9 90.6,414.7 91.4,413.6 92.2,412.4 93.0,411.2 93.8,410.0 94.6,408.9 95.5,407.7 96.3,406.5 97.1,405.3 98.0,404.1 98.8,403.0 99.7,401.8 100.5,400.6 101.4,399.4 102.3,398.2 103.2,397.0 104.0,395.8 104.9,394.6 105.8,393.4 106.7,392.2 107.6,391.0 108.6,389.8 109.5,388.5 110.4,387.3 111.3,386.1 112.3,384.9 113.2,383.7 114.2,382.4 115.1,381.2 116.1,380.0 117.1,378.7 118.1,377.5 119.0,376.3 120.0,375.0 121.0,373.8 122.1,372.5 123.1,371.3 124.1,370.0 125.2,368.8 126.2,367.5 127.3,366.2 128.3,365.0 129.4,363.7 130.5,362.5 131.7,361.2 132.9,359.9 134.1,358.7 135.4,357.4 136.7,356.1 138.1,354.8 139.4,353.5 140.8,352.2 142.1,350.9 143.5,349.6 144.7,348.3 146.0,347.0 147.2,345.6 144.7,343.4 143.5,344.7 142.4,346.0 141.1,347.3 139.8,348.6 138.5,349.9 137.2,351.2 135.8,352.5 134.5,353.8 133.2,355.2 131.9,356.5 130.6,357.8 129.4,359.1 128.2,360.4 127.1,361.7 126.0,363.0 124.9,364.3 123.9,365.5 122.8,366.8 121.8,368.1 120.7,369.4 119.7,370.6 118.7,371.9 117.7,373.2 116.7,374.4 115.7,375.7 114.8,376.9 113.8,378.2 112.8,379.4 111.9,380.7 110.9,381.9 110.0,383.1 109.1,384.4 108.1,385.6 107.2,386.8 106.3,388.1 105.4,389.3 104.5,390.5 103.6,391.7 102.7,392.9 101.8,394.1 100.9,395.4 100.0,396.6 99.2,397.8 98.3,399.0 97.5,400.2 96.6,401.4 95.8,402.6 94.9,403.8 94.1,405.0 93.3,406.2 92.4,407.4 91.6,408.5 90.8,409.7 90.0,410.9 89.2,412.1 88.4,413.3 87.6,414.4 86.8,415.6 86.1,416.8 85.3,418.0 84.6,419.1 83.9,420.3" fill="#ff0000"/>
<polygon points="447.7,37.7 446.9,38.2 446.2,38.6 445.4,39.1 444.7,39.6 443.9,40.1 443.2,40.6 442.5,41.1 444.6,44.3 445.3,43.8 446.1,43.4 446.8,42.9 447.6,42.4 448.3,41.9 449.0,41.4 449.8,40.9" fill="#ff0000"/><polygon points="438.9,43.4 438.2,43.9 437.4,44.4 436.7,44.8 435.9,45.3 435.2,45.8 434.4,46.3 433.7,46.8 435.9,50.1 436.6,49.6 437.3,49.1 438.1,48.6 438.8,48.1 439.6,47.6 440.3,47.1 441.0,46.7" fill="#ff0000"/><polygon points="430.2,49.1 429.4,49.6 428.7,50.1 427.9,50.6 427.2,51.1 426.5,51.6 425.7,52.1 425.0,52.6 427.2,55.8 427.9,55.3 428.6,54.8 429.4,54.4 430.1,53.9 430.8,53.4 431.6,52.9 432.3,52.4" fill="#ff0000"/><polygon points="421.5,54.9 420.7,55.4 420.0,55.9 419.2,56.4 418.5,56.9 417.8,57.4 417.0,57.9 416.3,58.4 418.5,61.6 419.2,61.1 420.0,60.7 420.7,60.2 421.4,59.7 422.2,59.2 422.9,58.7 423.6,58.2" fill="#ff0000"/><polygon points="412.8,60.8 412.0,61.3 411.3,61.8 410.6,62.3 409.9,62.8 409.1,63.3 408.4,63.8 407.7,64.3 409.9,67.5 410.6,67.0 411.3,66.5 412.0,66.0 412.8,65.5 413.5,65.0 414.2,64.5 415.0,64.0" fill="#ff0000"/><polygon points="404.1,66.7 403.4,67.2 402.7,67.7 402.0,68.2 401.2,68.7 400.5,69.2 399.8,69.7 399.0,70.2 401.2,73.4 402.0,72.9 402.7,72.4 403.4,71.9 404.2,71.4 404.9,70.9 405.6,70.4 406.4,69.9" fill="#ff0000"/><polygon points="395.5,72.6 394.8,73.1 394.1,73.6 393.4,74.2 392.6,74.7 391.9,75.2 391.2,75.7 390.4,76.2 392.7,79.4 393.4,78.9 394.1,78.4 394.9,77.9 395.6,77.4 396.3,76.9 397.0,76.3 397.8,75.8" fill="#ff0000"/><polygon points="387.0,78.6 386.2,79.1 385.5,79.7 384.8,80.2 384.1,80.7 383.3,81.2 382.6,81.7 381.9,82.2 384.1,85.4 384.9,84.9 385.6,84.4 386.3,83.9 387.0,83.3 387.8,82.8 388.5,82.3 389.2,81.8" fill="#ff0000"/><polygon points="378.4,84.7 377.7,85.2 377.0,85.7 376.3,86.2 375.5,86.7 374.8,87.3 374.1,87.8 373.4,88.3 375.6,91.5 376.4,90.9 377.1,90.4 377.8,89.9 378.5,89.4 379.2,88.9 380.0,88.4 380.7,87.9" fill="#ff0000"/><polygon points="369.9,90.8 369.2,91.3 368.5,91.8 367.8,92.3 367.0,92.8 366.3,93.4 365.6,93.9 364.9,94.4 367.2,97.6 367.9,97.0 368.6,96.5 369.3,96.0 370.1,95.5 370.8,95.0 371.5,94.5 372.2,93.9" fill="#ff0000"/><polygon points="361.5,96.9 360.7,97.4 360.0,98.0 359.3,98.5 358.6,99.0 357.9,99.5 357.2,100.1 356.5,100.6 358.8,103.7 359.5,103.2 360.2,102.7 360.9,102.2 361.6,101.6 362.3,101.1 363.0,100.6 363.8,100.1" fill="#ff0000"/><polygon points="353.0,103.1 352.3,103.6 351.6,104.2 350.9,104.7 350.2,105.2 349.5,105.8 348.8,106.3 348.0,106.8 350.4,110.0 351.1,109.4 351.8,108.9 352.5,108.4 353.2,107.8 353.9,107.3 354.6,106.8 355.4,106.3" fill="#ff0000"/><polygon points="344.6,109.4 343.9,109.9 343.2,110.4 342.5,111.0 341.8,111.5 341.1,112.0 340.4,112.6 339.7,113.1 342.0,116.2 342.7,115.7 343.5,115.2 344.2,114.6 344.9,114.1 345.6,113.6 346.3,113.0 347.0,112.5" fill="#ff0000"/><polygon points="336.3,115.7 335.6,116.2 334.9,116.8 334.2,117.3 333.5,117.8 332.8,118.4 332.1,118.9 331.4,119.5 333.7,122.6 334.4,122.0 335.1,121.5 335.8,120.9 336.6,120.4 337.3,119.9 338.0,119.3 338.7,118.8" fill="#ff0000"/><polygon points="328.0,122.1 327.3,122.6 326.6,123.1 325.9,123.7 325.2,124.2 324.5,124.8 323.8,125.3 323.1,125.9 325.5,128.9 326.2,128.4 326.9,127.9 327.6,127.3 328.3,126.8 329.0,126.2 329.7,125.7 330.4,125.1" fill="#ff0000"/><polygon points="319.7,128.5 319.0,129.0 318.3,129.6 317.6,130.1 316.9,130.7 316.3,131.2 315.6,131.8 314.9,132.3 317.3,135.4 318.0,134.8 318.7,134.3 319.4,133.7 320.1,133.2 320.8,132.6 321.4,132.1 322.1,131.6" fill="#ff0000"/><polygon points="311.5,135.0 310.8,135.5 310.1,136.1 309.4,136.6 308.8,137.2 308.1,137.7 307.4,138.3 306.7,138.8 309.1,141.9 309.8,141.3 310.5,140.8 311.2,140.2 311.9,139.7 312.6,139.1 313.3,138.6 314.0,138.0" fill="#ff0000"/><polygon points="303.4,141.5 302.7,142.1 302.0,142.6 301.3,143.2 300.6,143.7 299.9,144.3 299.2,144.9 298.5,145.4 301.0,148.4 301.7,147.9 302.4,147.3 303.1,146.8 303.7,146.2 304.4,145.7 305.1,145.1 305.8,144.5" fill="#ff0000"/><polygon points="295.2,148.1 294.6,148.7 293.9,149.2 293.2,149.8 292.5,150.4 291.8,150.9 291.1,151.5 290.5,152.1 292.9,155.1 293.6,154.5 294.3,153.9 295.0,153.4 295.7,152.8 296.4,152.3 297.0,151.7 297.7,151.1" fill="#ff0000"/><polygon points="287.2,154.8 286.5,155.4 285.8,155.9 285.1,156.5 284.5,157.1 283.8,157.6 283.1,158.2 282.4,158.8 284.9,161.8 285.6,161.2 286.3,160.6 287.0,160.1 287.6,159.5 288.3,158.9 289.0,158.4 289.7,157.8" fill="#ff0000"/><polygon points="279.2,161.5 278.5,162.1 277.8,162.7 277.1,163.2 276.5,163.8 275.8,164.4 275.1,165.0 274.4,165.5 277.0,168.5 277.6,167.9 278.3,167.4 279.0,166.8 279.7,166.2 280.3,165.6 281.0,165.1 281.7,164.5" fill="#ff0000"/><polygon points="271.2,168.3 270.5,168.9 269.9,169.5 269.2,170.1 268.5,170.6 267.9,171.2 267.2,171.8 266.5,172.4 269.1,175.3 269.7,174.8 270.4,174.2 271.1,173.6 271.7,173.0 272.4,172.4 273.1,171.9 273.8,171.3" fill="#ff0000"/><polygon points="263.3,175.2 262.6,175.8 262.0,176.4 261.3,176.9 260.6,177.5 260.0,178.1 259.3,178.7 258.7,179.3 261.2,182.2 261.9,181.6 262.6,181.0 263.2,180.5 263.9,179.9 264.6,179.3 265.2,178.7 265.9,178.1" fill="#ff0000"/><polygon points="255.5,182.1 254.8,182.7 254.1,183.3 253.5,183.9 252.8,184.5 252.2,185.1 251.5,185.7 250.8,186.3 253.5,189.2 254.1,188.6 254.8,188.0 255.4,187.4 256.1,186.8 256.7,186.2 257.4,185.6 258.1,185.0" fill="#ff0000"/><polygon points="247.7,189.1 247.0,189.7 246.4,190.3 245.7,190.9 245.1,191.5 244.4,192.1 243.8,192.7 243.1,193.3 245.7,196.2 246.4,195.6 247.0,195.0 247.7,194.4 248.3,193.8 249.0,193.2 249.7,192.6 250.3,192.0" fill="#ff0000"/><polygon points="240.0,196.2 239.3,196.8 238.7,197.4 238.0,198.0 237.4,198.6 236.8,199.3 236.1,199.9 235.5,200.5 238.1,203.3 238.7,202.6 239.4,202.0 240.0,201.4 240.7,200.8 241.3,200.2 242.0,199.6 242.6,199.0" fill="#ff0000"/><polygon points="232.4,203.4 231.7,204.0 231.1,204.6 230.4,205.2 229.8,205.8 229.2,206.4 228.5,207.1 227.9,207.7 230.5,210.4 231.1,209.8 231.8,209.2 232.4,208.6 233.0,208.0 233.7,207.4 234.3,206.8 235.0,206.1" fill="#ff0000"/><polygon points="224.8,210.6 224.2,211.2 223.5,211.9 222.9,212.5 222.3,213.1 221.6,213.7 221.0,214.3 220.3,215.0 222.9,217.6 223.6,217.0 224.2,216.4 224.8,215.8 225.5,215.2 226.1,214.5 226.8,213.9 227.4,213.3" fill="#ff0000"/><polygon points="217.3,217.9 216.7,218.6 216.0,219.2 215.4,219.8 214.8,220.4 214.2,221.1 213.5,221.7 212.9,222.3 215.5,224.9 216.1,224.3 216.7,223.7 217.4,223.1 218.0,222.4 218.6,221.8 219.3,221.2 219.9,220.6" fill="#ff0000"/><polygon shape-rendering="geometricPrecision" points="209.9,225.3 209.3,226.0 208.6,226.6 208.0,227.2 207.4,227.9 206.8,228.5 206.2,229.1 205.5,229.8 208.1,232.3 208.7,231.7 209.4,231.0 210.0,230.4 210.6,229.8 211.2,229.2 211.9,228.5 212.5,227.9" fill="#ff0000"/><polygon shape-rendering="geometricPrecision" points="202.6,232.8 201.9,233.4 201.3,234.1 200.7,234.7 200.1,235.3 199.5,236.0 198.9,236.6 198.2,237.3 200.8,239.7 201.4,239.1 202.0,238.5 202.7,237.8 203.3,237.2 203.9,236.6 204.5,235.9 205.1,235.3" fill="#ff0000"/><polygon shape-rendering="geometricPrecision" points="195.3,240.3 194.7,241.0 194.1,241.6 193.5,242.3 192.9,242.9 192.3,243.6 191.6,244.2 191.0,244.9 193.6,247.3 194.2,246.6 194.8,246.0 195.4,245.4 196.0,244.7 196.7,244.1 197.3,243.4 197.9,242.8" fill="#ff0000"/><polygon shape-rendering="geometricPrecision" points="188.1,248.0 187.5,248.6 186.9,249.3 186.3,249.9 185.7,250.6 185.1,251.2 184.5,251.9 183.9,252.5 186.5,254.9 187.1,254.2 187.7,253.6 188.3,253.0 188.9,252.3 189.5,251.7 190.1,251.0 190.7,250.4" fill="#ff0000"/><polygon shape-rendering="geometricPrecision" points="181.0,255.7 180.5,256.3 179.9,257.0 179.3,257.7 178.7,258.3 178.1,259.0 177.5,259.6 176.9,260.3 179.4,262.6 180.0,261.9 180.6,261.3 181.2,260.6 181.8,260.0 182.4,259.3 183.0,258.7 183.6,258.0" fill="#ff0000"/><polygon shape-rendering="geometricPrecision" points="174.1,263.5 173.5,264.1 172.9,264.8 172.3,265.5 171.7,266.1 171.1,266.8 170.5,267.5 170.0,268.1 172.5,270.4 173.1,269.7 173.7,269.1 174.3,268.4 174.8,267.7 175.4,267.1 176.0,266.4 176.6,265.8" fill="#ff0000"/><polygon shape-rendering="geometricPrecision" points="167.2,271.4 166.6,272.0 166.0,272.7 165.4,273.4 164.8,274.1 164.3,274.7 163.7,275.4 163.1,276.1 165.7,278.3 166.2,277.6 166.8,276.9 167.4,276.2 168.0,275.6 168.5,274.9 169.1,274.2 169.7,273.6" fill="#ff0000"/><polygon shape-rendering="geometricPrecision" points="160.4,279.3 159.8,280.0 159.2,280.7 158.7,281.4 158.1,282.1 157.5,282.7 157.0,283.4 156.4,284.1 158.9,286.2 159.5,285.5 160.1,284.9 160.6,284.2 161.2,283.5 161.8,282.8 162.3,282.2 162.9,281.5" fill="#ff0000"/><polygon shape-rendering="geometricPrecision" points="153.7,287.4 153.1,288.1 152.6,288.8 152.0,289.4 151.4,290.1 150.9,290.8 150.3,291.5 149.8,292.2 152.3,294.3 152.9,293.6 153.4,292.9 154.0,292.2 154.5,291.5 155.1,290.8 155.7,290.2 156.2,289.5" fill="#ff0000"/><polygon shape-rendering="geometricPrecision" points="147.1,295.5 146.5,296.2 146.0,296.9 145.4,297.6 144.9,298.3 144.3,299.0 143.8,299.7 143.2,300.4 145.8,302.4 146.3,301.7 146.9,301.0 147.4,300.3 148.0,299.6 148.5,298.9 149.1,298.2 149.6,297.6" fill="#ff0000"/><polygon shape-rendering="geometricPrecision" points="140.6,303.8 140.1,304.5 139.5,305.2 139.0,305.9 138.5,306.6 137.9,307.3 137.4,308.0 136.8,308.7 139.4,310.6 139.9,309.9 140.4,309.2 141.0,308.5 141.5,307.8 142.1,307.1 142.6,306.4 143.2,305.7" fill="#ff0000"/><polygon shape-rendering="geometricPrecision" points="134.3,312.1 133.7,312.8 133.2,313.5 132.7,314.2 132.2,314.9 131.6,315.7 131.1,316.4 130.6,317.1 133.1,318.9 133.6,318.2 134.1,317.5 134.7,316.8 135.2,316.1 135.7,315.4 136.3,314.7 136.8,314.0" fill="#ff0000"/><polygon shape-rendering="geometricPrecision" points="128.1,320.5 127.5,321.2 127.0,322.0 126.5,322.7 126.0,323.4 125.5,324.1 124.9,324.8 124.4,325.6 126.9,327.4 127.5,326.6 128.0,325.9 128.5,325.2 129.0,324.5 129.5,323.8 130.0,323.1 130.6,322.4" fill="#ff0000"/><polygon shape-rendering="geometricPrecision" points="122.0,329.0 121.4,329.8 120.9,330.5 120.4,331.2 119.9,331.9 119.4,332.7 118.9,333.4 118.4,334.1 120.9,335.9 121.4,335.1 121.9,334.4 122.4,333.7 122.9,333.0 123.4,332.3 124.0,331.5 124.5,330.8" fill="#ff0000"/><polygon shape-rendering="geometricPrecision" points="116.0,337.6 115.5,338.4 115.0,339.1 114.5,339.8 114.0,340.6 113.5,341.3 113.0,342.1 112.5,342.8 115.0,344.5 115.5,343.7 116.0,343.0 116.5,342.3 117.0,341.5 117.5,340.8 118.0,340.1 118.5,339.4" fill="#ff0000"/><polygon shape-rendering="geometricPrecision" points="110.2,346.3 109.7,347.1 109.2,347.8 108.7,348.6 108.2,349.3 107.7,350.1 107.3,350.8 106.8,351.6 109.3,353.2 109.8,352.4 110.2,351.7 110.7,351.0 111.2,350.2 111.7,349.5 112.2,348.7 112.7,348.0" fill="#ff0000"/><polygon shape-rendering="geometricPrecision" points="104.5,355.1 104.0,355.9 103.5,356.7 103.1,357.4 102.6,358.2 102.1,358.9 101.6,359.7 101.2,360.4 103.7,362.0 104.2,361.2 104.6,360.5 105.1,359.7 105.6,359.0 106.0,358.2 106.5,357.5 107.0,356.7" fill="#ff0000"/><polygon shape-rendering="geometricPrecision" points="98.9,364.0 98.5,364.8 98.0,365.6 97.6,366.3 97.1,367.1 96.7,367.8 96.2,368.6 95.7,369.4 98.2,370.9 98.7,370.1 99.2,369.3 99.6,368.6 100.1,367.8 100.5,367.1 101.0,366.3 101.5,365.6" fill="#ff0000"/><polygon shape-rendering="geometricPrecision" points="93.6,373.0 93.1,373.8 92.7,374.6 92.2,375.3 91.8,376.1 91.3,376.9 90.9,377.6 90.5,378.4 93.0,379.8 93.4,379.1 93.8,378.3 94.3,377.6 94.7,376.8 95.2,376.0 95.6,375.3 96.1,374.5" fill="#ff0000"/><polygon shape-rendering="geometricPrecision" points="88.4,382.1 87.9,382.9 87.5,383.7 87.1,384.4 86.6,385.2 86.2,386.0 85.8,386.8 85.3,387.6 87.8,388.9 88.3,388.2 88.7,387.4 89.1,386.6 89.5,385.8 90.0,385.1 90.4,384.3 90.9,383.5" fill="#ff0000"/><polygon shape-rendering="geometricPrecision" points="83.3,391.3 82.9,392.1 82.5,392.9 82.0,393.6 81.6,394.4 81.2,395.2 80.8,396.0 80.4,396.8 82.9,398.1 83.3,397.3 83.7,396.5 84.1,395.8 84.5,395.0 85.0,394.2 85.4,393.4 85.8,392.6" fill="#ff0000"/><polygon shape-rendering="geometricPrecision" points="78.4,400.6 78.0,401.4 77.6,402.1 77.2,402.9 76.8,403.7 76.4,404.5 76.0,405.3 75.6,406.1 78.1,407.4 78.5,406.6 78.9,405.8 79.3,405.0 79.7,404.2 80.1,403.4 80.5,402.6 80.9,401.9" fill="#ff0000"/><polygon shape-rendering="geometricPrecision" points="73.7,409.9 73.3,410.7 72.9,411.5 72.5,412.3 72.1,413.1 71.8,413.9 71.4,414.7 71.0,415.5 73.5,416.7 73.9,415.9 74.3,415.1 74.7,414.3 75.1,413.5 75.4,412.7 75.8,412.0 76.2,411.2" fill="#ff0000"/>
</g>
<path d="M68 413.1H70.3V416.7H68ZM68 34.1H70.3V37.7H68ZM85.4045 413.1H87.7045V416.7H85.4045ZM85.4045 34.1H87.7045V37.7H85.4045ZM102.809 410.9H105.109V416.7H102.809ZM102.809 34.1H105.109V39.9H102.809ZM120.214 413.1H122.514V416.7H120.214ZM120.214 34.1H122.514V37.7H120.214ZM137.618 413.1H139.918V416.7H137.618ZM137.618 34.1H139.918V37.7H137.618ZM155.023 413.1H157.323V416.7H155.023ZM155.023 34.1H157.323V37.7H155.023ZM172.427 410.9H174.727V416.7H172.427ZM172.427 34.1H174.727V39.9H172.427ZM189.832 413.1H192.132V416.7H189.832ZM189.832 34.1H192.132V37.7H189.832ZM207.236 413.1H209.536V416.7H207.236ZM207.236 34.1H209.536V37.7H207.236ZM224.641 413.1H226.941V416.7H224.641ZM224.641 34.1H226.941V37.7H224.641ZM242.045 410.9H244.345V416.7H242.045ZM242.045 34.1H244.345V39.9H242.045ZM259.45 413.1H261.75V416.7H259.45ZM259.45 34.1H261.75V37.7H259.45ZM276.855 413.1H279.155V416.7H276.855ZM276.855 34.1H279.155V37.7H276.855ZM294.259 413.1H296.559V416.7H294.259ZM294.259 34.1H296.559V37.7H294.259ZM311.664 410.9H313.964V416.7H311.664ZM311.664 34.1H313.964V39.9H311.664ZM329.068 413.1H331.368V416.7H329.068ZM329.068 34.1H331.368V37.7H329.068ZM346.473 413.1H348.773V416.7H346.473ZM346.473 34.1H348.773V37.7H346.473ZM363.877 413.1H366.177V416.7H363.877ZM363.877 34.1H366.177V37.7H363.877ZM381.282 410.9H383.582V416.7H381.282ZM381.282 34.1H383.582V39.9H381.282ZM398.686 413.1H400.986V416.7H398.686ZM398.686 34.1H400.986V37.7H398.686ZM416.091 413.1H418.391V416.7H416.091ZM416.091 34.1H418.391V37.7H416.091ZM433.495 413.1H435.795V416.7H433.495ZM433.495 34.1H435.795V37.7H433.495ZM450.9 410.9H453.2V416.7H450.9ZM450.9 34.1H453.2V39.9H450.9ZM69.1 415.6H74.9V418.1H69.1ZM446.2 415.6H452V418.1H446.2ZM69.1 404.669H72.7V407.169H69.1ZM448.4 404.669H452V407.169H448.4ZM69.1 393.737H72.7V396.237H69.1ZM448.4 393.737H452V396.237H448.4ZM69.1 382.806H72.7V385.306H69.1ZM448.4 382.806H452V385.306H448.4ZM69.1 371.874H72.7V374.374H69.1ZM448.4 371.874H452V374.374H448.4ZM69.1 360.943H74.9V363.443H69.1ZM446.2 360.943H452V363.443H446.2ZM69.1 350.011H72.7V352.511H69.1ZM448.4 350.011H452V352.511H448.4ZM69.1 339.08H72.7V341.58H69.1ZM448.4 339.08H452V341.58H448.4ZM69.1 328.149H72.7V330.649H69.1ZM448.4 328.149H452V330.649H448.4ZM69.1 317.217H72.7V319.717H69.1ZM448.4 317.217H452V319.717H448.4ZM69.1 306.286H74.9V308.786H69.1ZM446.2 306.286H452V308.786H446.2ZM69.1 295.354H72.7V297.854H69.1ZM448.4 295.354H452V297.854H448.4ZM69.1 284.423H72.7V286.923H69.1ZM448.4 284.423H452V286.923H448.4ZM69.1 273.491H72.7V275.991H69.1ZM448.4 273.491H452V275.991H448.4ZM69.1 262.56H72.7V265.06H69.1ZM448.4 262.56H452V265.06H448.4ZM69.1 251.629H74.9V254.129H69.1ZM446.2 251.629H452V254.129H446.2ZM69.1 240.697H72.7V243.197H69.1ZM448.4 240.697H452V243.197H448.4ZM69.1 229.766H72.7V232.266H69.1ZM448.4 229.766H452V232.266H448.4ZM69.1 218.834H72.7V221.334H69.1ZM448.4 218.834H452V221.334H448.4ZM69.1 207.903H72.7V210.403H69.1ZM448.4 207.903H452V210.403H448.4ZM69.1 196.971H74.9V199.471H69.1ZM446.2 196.971H452V199.471H446.2ZM69.1 186.04H72.7V188.54H69.1ZM448.4 186.04H452V188.54H448.4ZM69.1 175.109H72.7V177.609H69.1ZM448.4 175.109H452V177.609H448.4ZM69.1 164.177H72.7V166.677H69.1ZM448.4 164.177H452V166.677H448.4ZM69.1 153.246H72.7V155.746H69.1ZM448.4 153.246H452V155.746H448.4ZM69.1 142.314H74.9V144.814H69.1ZM446.2 142.314H452V144.814H446.2ZM69.1 131.383H72.7V133.883H69.1ZM448.4 131.383H452V133.883H448.4ZM69.1 120.451H72.7V122.951H69.1ZM448.4 120.451H452V122.951H448.4ZM69.1 109.52H72.7V112.02H69.1ZM448.4 109.52H452V112.02H448.4ZM69.1 98.5886H72.7V101.089H69.1ZM448.4 98.5886H452V101.089H448.4ZM69.1 87.6571H74.9V90.1571H69.1ZM446.2 87.6571H452V90.1571H446.2ZM69.1 76.7257H72.7V79.2257H69.1ZM448.4 76.7257H452V79.2257H448.4ZM69.1 65.7943H72.7V68.2943H69.1ZM448.4 65.7943H452V68.2943H448.4ZM69.1 54.8629H72.7V57.3629H69.1ZM448.4 54.8629H452V57.3629H448.4ZM69.1 43.9314H72.7V46.4314H69.1ZM448.4 43.9314H452V46.4314H448.4ZM69.1 33H74.9V35.5H69.1ZM446.2 33H452V35.5H446.2Z" fill="#6a6a6a"/>
<g opacity="0.999">
<g font-family="&quot;Liberation Sans&quot;, sans-serif" font-size="15.458937198067634" fill="#676767" stroke="#676767" stroke-width="0.35">
<text transform="translate(104.3,434.0) scale(1.035,1)" text-anchor="middle">200</text>
<text transform="translate(173.9,434.0) scale(1.035,1)" text-anchor="middle">400</text>
<text transform="translate(243.5,434.0) scale(1.035,1)" text-anchor="middle">600</text>
<text transform="translate(313.2,434.0) scale(1.035,1)" text-anchor="middle">800</text>
<text transform="translate(382.8,434.0) scale(1.035,1)" text-anchor="middle">1000</text>
<text transform="translate(452.4,434.0) scale(1.035,1)" text-anchor="middle">1200</text>
<text transform="translate(65.7,421.4) scale(1.035,1)" text-anchor="end">300</text>
<text transform="translate(65.7,366.7) scale(1.035,1)" text-anchor="end">400</text>
<text transform="translate(65.7,312.1) scale(1.035,1)" text-anchor="end">500</text>
<text transform="translate(65.7,257.4) scale(1.035,1)" text-anchor="end">600</text>
<text transform="translate(65.7,202.8) scale(1.035,1)" text-anchor="end">700</text>
<text transform="translate(65.7,148.1) scale(1.035,1)" text-anchor="end">800</text>
<text transform="translate(65.7,93.5) scale(1.035,1)" text-anchor="end">900</text>
<text transform="translate(65.7,38.8) scale(1.035,1)" text-anchor="end">1000</text>
</g>
<g font-family="&quot;Liberation Sans&quot;, sans-serif" fill="#676767" stroke="#676767" stroke-width="0.35">
<text transform="translate(125.6,14.2) scale(1.035,1)" font-size="15.46" font-style="italic">v</text>
<text transform="translate(133.9,17.2) scale(1.035,1)" font-size="12.56">ϕ</text>
<text transform="translate(142.3,14.2) scale(1.035,1)" font-size="15.46">=1.2</text>
<text transform="translate(173.8,14.2) scale(1.035,1)" font-size="15.46">T</text>
<text transform="translate(183.9,14.2) scale(1.035,1)" font-size="15.46">e</text>
<text transform="translate(192.6,14.2) scale(1.035,1)" font-size="15.46">V</text>
<text transform="translate(204.0,14.2) scale(1.035,1)" font-size="15.46">,</text>
<text transform="translate(209.8,14.2) scale(1.035,1)" font-size="15.46" font-style="italic">m</text>
<text transform="translate(224.2,17.8) scale(1.035,1)" font-size="11.11" font-style="italic">X</text>
<text transform="translate(233.2,14.2) scale(1.035,1)" font-size="15.46">=4</text>
<text transform="translate(251.9,14.2) scale(1.035,1)" font-size="15.46" font-style="italic">m</text>
<text transform="translate(265.2,17.8) scale(1.035,1)" font-size="11.11" font-style="italic">h</text>
<text transform="translate(271.8,20.2) scale(1.035,1)" font-size="9.18">2</text>
<text transform="translate(280.3,14.2) scale(1.035,1)" font-size="15.46">,</text>
<text transform="translate(289.2,14.2) scale(1.035,1)" font-size="15.46" font-style="italic">r</text>
<text transform="translate(295.0,17.8) scale(1.035,1)" font-size="11.11">UV</text>
<text transform="translate(312.1,14.2) scale(1.035,1)" font-size="15.46">=10,</text>
<text transform="translate(346.6,14.2) scale(1.035,1)" font-size="15.46" font-style="italic">Q</text>
<text transform="translate(358.6,17.8) scale(1.035,1)" font-size="11.11">DM</text>
<text transform="translate(377.1,14.2) scale(1.035,1)" font-size="15.46">=1</text>
<g stroke-width="0.15">
<text transform="translate(230.6,458.0) scale(1.035,1)" font-size="13.53" font-style="italic">m</text>
<text transform="translate(240.6,461.2) scale(1.035,1)" font-size="11.11">DM</text>
<text transform="translate(259.5,458.0) scale(1.035,1)" font-size="13.53">/GeV</text>
<g transform="translate(11.8,253.0) rotate(-90)">
<text transform="translate(0.0,0.0) scale(1.035,1)" font-size="13.53" font-style="italic">m</text>
<text transform="translate(11.2,3.5) scale(1.035,1)" font-size="11.11" font-style="italic">h</text>
<text transform="translate(17.6,6.3) scale(1.035,1)" font-size="9.18">2</text>
<text transform="translate(23.5,0.0) scale(1.035,1)" font-size="13.53">/GeV</text>
</g></g></g>
<g font-family="&quot;Liberation Sans&quot;, sans-serif" font-size="15.4" font-weight="bold">
<rect x="198.4" y="88.7" width="7.2" height="2" fill="#000"/>
<text x="155.0" y="94.0" fill="#000">Fermi</text>
<text x="206.5" y="94.0" fill="#000" letter-spacing="0.8">LAT</text>
<text x="366.2" y="339.6" fill="#000">LZ</text>
<text x="381.3" y="410.7" fill="#000">Trident</text>
<text transform="translate(395.0,99.3) scale(0.87,1)" fill="#ff0000" stroke="#ff0000" stroke-width="0.5" font-size="17">NS</text>
<g fill="#00ffff" stroke="#00ffff" stroke-width="0.5" font-size="15.5">
<text transform="translate(305.0,87.6) scale(0.95,1)" font-style="italic">t</text>
<text transform="translate(310.0,91.0) scale(1.5,1)" font-style="italic" font-size="8.5">θ</text>
<text transform="translate(317.6,87.6) scale(0.95,1)">=0.1</text>
</g>
<g fill="#00ff00" stroke="#00ff00" stroke-width="0.5" font-size="15.5">
<text transform="translate(311.0,152.8) scale(0.95,1)" font-style="italic">t</text>
<text transform="translate(316.0,156.2) scale(1.5,1)" font-style="italic" font-size="8.5">θ</text>
<text transform="translate(323.6,152.8) scale(0.95,1)">=0.15</text>
</g>
<g fill="#ff8000" stroke="#ff8000" stroke-width="0.5" font-size="15.5">
<text transform="translate(318.9,245.8) scale(0.95,1)" font-style="italic">t</text>
<text transform="translate(323.9,249.2) scale(1.5,1)" font-style="italic" font-size="8.5">θ</text>
<text transform="translate(331.5,245.8) scale(0.95,1)">=0.2</text>
</g>
</g>
</g>
</svg>
</body></html>
